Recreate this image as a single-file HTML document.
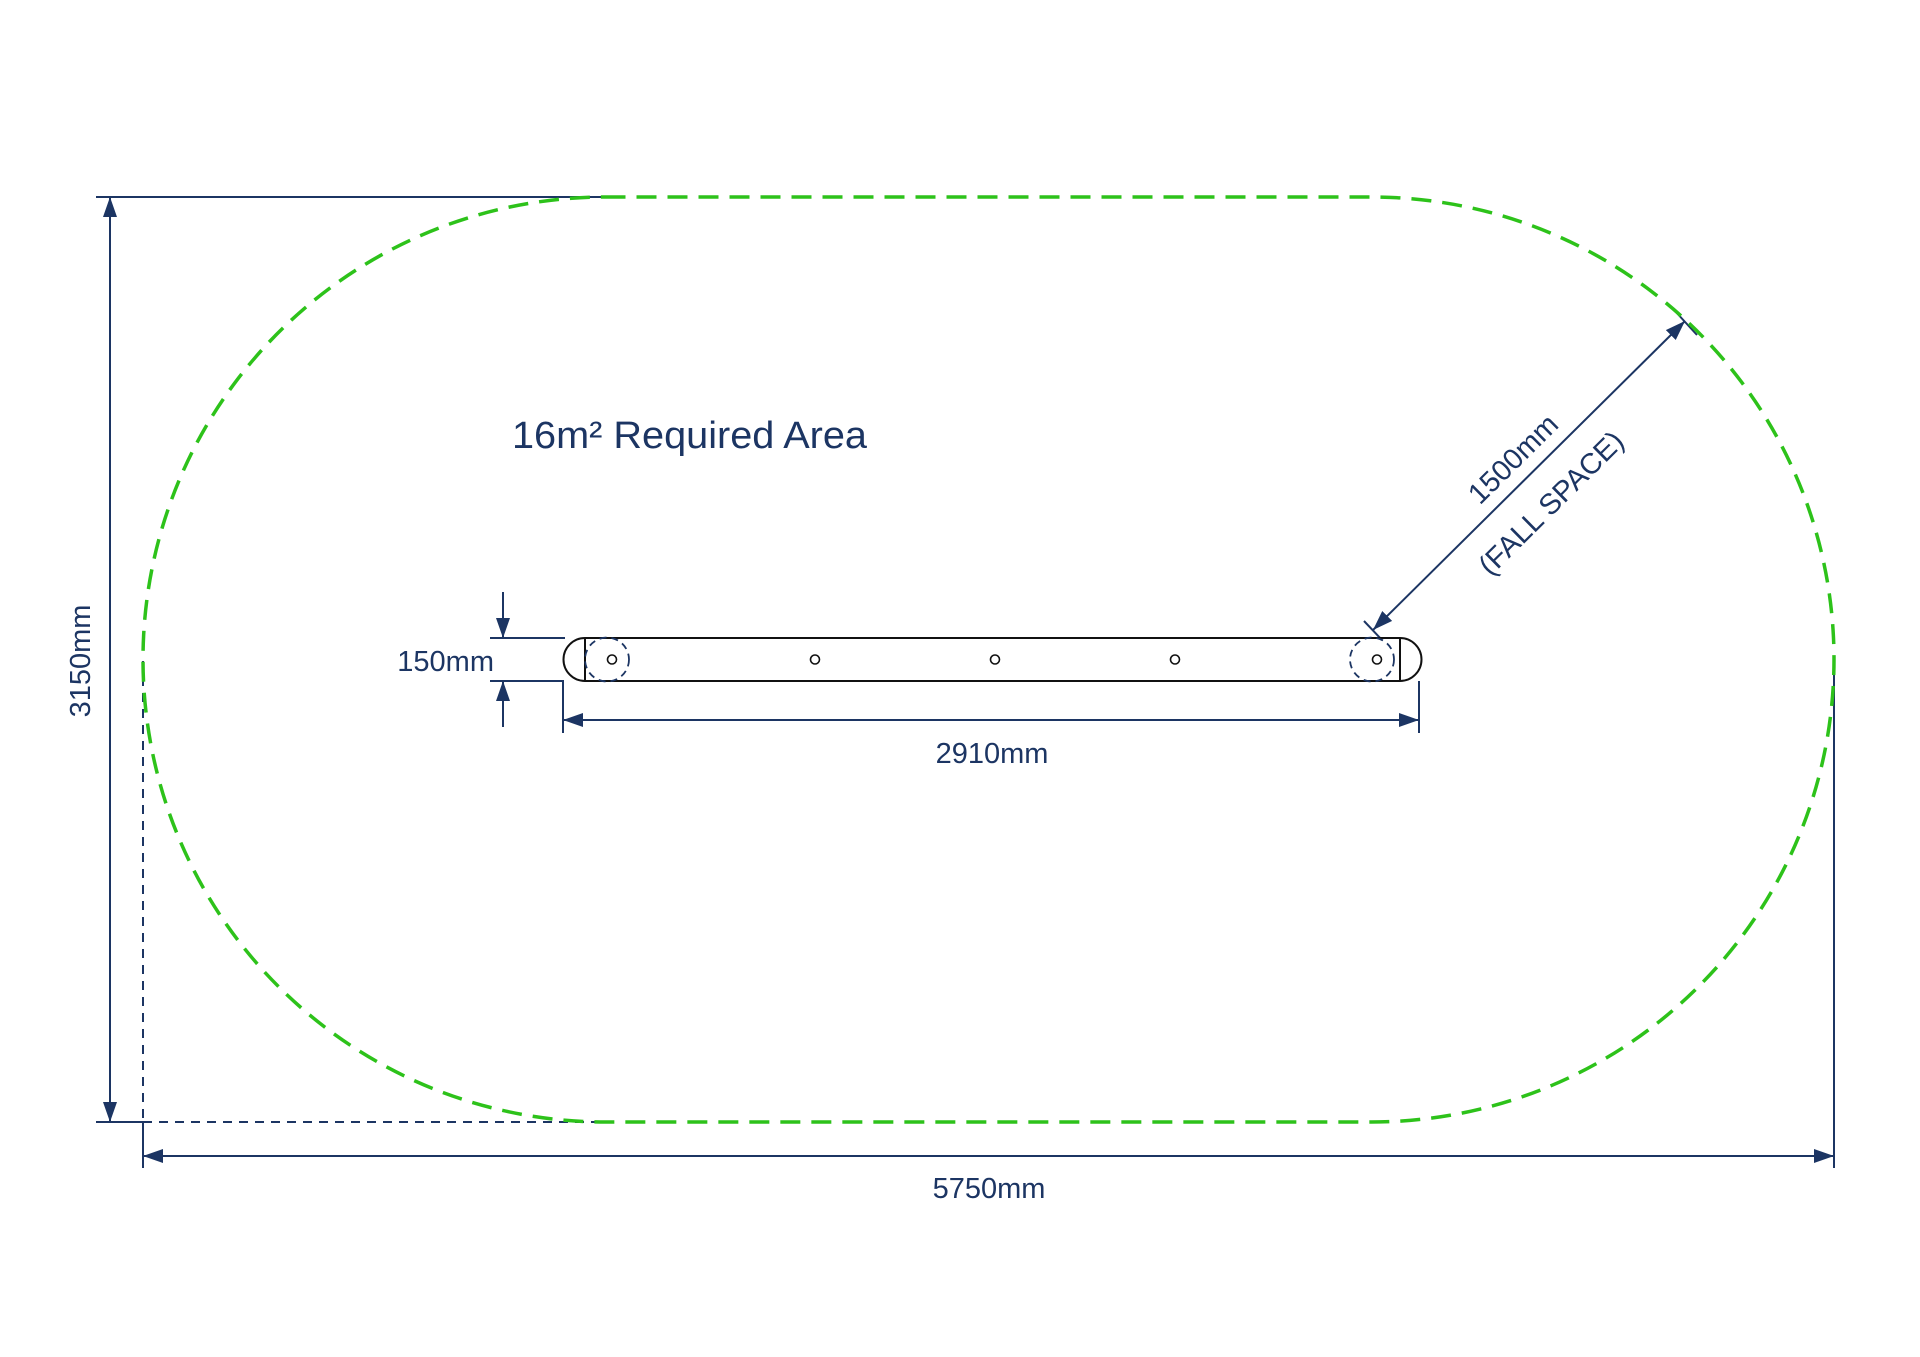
<!DOCTYPE html>
<html><head><meta charset="utf-8"><style>
html,body{margin:0;padding:0;background:#fff}
svg{display:block}
text{font-family:"Liberation Sans",sans-serif;fill:#1c3563}
</style></head><body>
<svg width="1920" height="1357" viewBox="0 0 1920 1357" xmlns="http://www.w3.org/2000/svg">
<defs>
<marker id="a" viewBox="0 0 20 14" refX="20" refY="7" markerWidth="20" markerHeight="14" markerUnits="userSpaceOnUse" orient="auto-start-reverse">
<path d="M0,0 L20,7 L0,14 Z" fill="#1c3563"/>
</marker>
</defs>
<g stroke="#1c3563" stroke-width="2" fill="none">
<!-- top extension -->
<line x1="96" y1="197" x2="605" y2="197"/>
<!-- bottom extension -->
<line x1="96" y1="1122" x2="143" y2="1122"/>
<line x1="143" y1="1122" x2="605" y2="1122" stroke-dasharray="9,7"/>
<!-- left dashed ext -->
<line x1="143" y1="661" x2="143" y2="1122" stroke-dasharray="9,7"/>
<line x1="143" y1="1122" x2="143" y2="1168"/>
<!-- right ext -->
<line x1="1834" y1="661" x2="1834" y2="1168"/>
<!-- 3150 dim -->
<line x1="110" y1="197" x2="110" y2="1122" marker-start="url(#a)" marker-end="url(#a)"/>
<!-- 5750 dim -->
<line x1="143" y1="1156" x2="1834" y2="1156" marker-start="url(#a)" marker-end="url(#a)"/>
<!-- 150 dim -->
<line x1="490" y1="638" x2="565" y2="638"/>
<polyline points="490,681 563,681 563,733"/>
<line x1="503" y1="592" x2="503" y2="638" marker-end="url(#a)"/>
<line x1="503" y1="727" x2="503" y2="681" marker-end="url(#a)"/>
<!-- 2910 dim -->
<line x1="1419" y1="681" x2="1419" y2="733"/>
<line x1="563" y1="720" x2="1419" y2="720" marker-start="url(#a)" marker-end="url(#a)"/>
<!-- diagonal -->
<line x1="1373" y1="630" x2="1685" y2="321" marker-start="url(#a)" marker-end="url(#a)"/>
<line x1="1364" y1="621" x2="1382" y2="640"/>
<line x1="1675" y1="311" x2="1697" y2="335"/>
</g>
<!-- green fall zone -->
<path d="M605.5,197 L1371.5,197 A462.5,462.5 0 0 1 1371.5,1122 L605.5,1122 A462.5,462.5 0 0 1 605.5,197 Z" fill="none" stroke="#2dc21a" stroke-width="3.5" stroke-dasharray="20,11"/>
<!-- bar -->
<g stroke="#111" stroke-width="2" fill="none">
<path d="M585,638 L1400,638 A21.5,21.5 0 0 1 1400,681 L585,681 A21.5,21.5 0 0 1 585,638 Z"/>
<line x1="585" y1="638" x2="585" y2="681"/>
<line x1="1400" y1="638" x2="1400" y2="681"/>
</g>
<g stroke="#1c3563" stroke-width="1.8" fill="none">
<circle cx="607" cy="659.5" r="22" stroke-dasharray="7,5"/>
<circle cx="1372" cy="659.5" r="22" stroke-dasharray="7,5"/>
</g>
<g stroke="#111" stroke-width="1.6" fill="none">
<circle cx="612" cy="659.5" r="4.5"/>
<circle cx="815" cy="659.5" r="4.5"/>
<circle cx="995" cy="659.5" r="4.5"/>
<circle cx="1175" cy="659.5" r="4.5"/>
<circle cx="1377" cy="659.5" r="4.5"/>
</g>
<!-- text -->
<text x="512" y="448" font-size="38" textLength="355" lengthAdjust="spacingAndGlyphs">16m² Required Area</text>
<text x="494" y="671" font-size="29" text-anchor="end">150mm</text>
<text x="992" y="763" font-size="29" text-anchor="middle">2910mm</text>
<text x="989" y="1198" font-size="29" text-anchor="middle">5750mm</text>
<text x="0" y="0" font-size="29" text-anchor="middle" transform="translate(90,661) rotate(-90)">3150mm</text>
<text x="0" y="0" font-size="29" text-anchor="middle" transform="translate(1520,466) rotate(-44.7)">1500mm</text>
<text x="0" y="0" font-size="29" text-anchor="middle" transform="translate(1558,510) rotate(-44.7)">(FALL SPACE)</text>
</svg>
</body></html>
